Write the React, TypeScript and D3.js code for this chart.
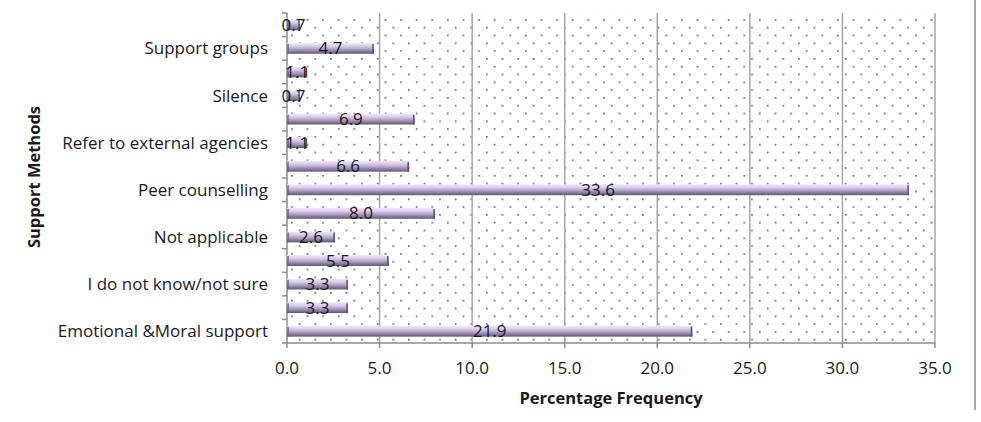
import React from "react";
import * as d3 from "d3";

// Categories from bottom (first) to top (last); hidden labels are blank in the source
const categories: string[] = [
  "Emotional &Moral support",
  "",
  "I do not know/not sure",
  "",
  "Not applicable",
  "",
  "Peer counselling",
  "",
  "Refer to external agencies",
  "",
  "Silence",
  "",
  "Support groups",
  "",
];
const values: number[] = [21.9, 3.3, 3.3, 5.5, 2.6, 8.0, 33.6, 6.6, 1.1, 6.9, 0.7, 1.1, 4.7, 0.7];
const xTicks: number[] = [0, 5, 10, 15, 20, 25, 30, 35];
const xTitle = "Percentage Frequency";
const yTitle = "Support Methods";

const W = 981;
const H = 422;
const M = { left: 287, right: 46, top: 13, bottom: 79 };
const FONT = "'Open Sans', sans-serif";
const FS = 17;

export default function App() {
  const x = d3.scaleLinear().domain([0, 35]).range([M.left, W - M.right]);
  const idx = categories.map((_, i) => i);
  const y = d3
    .scaleBand<number>()
    .domain(idx.slice().reverse())
    .range([M.top, H - M.bottom])
    .paddingInner(0.54)
    .paddingOuter(0.27);
  const step = y.step();
  const plotTop = M.top;
  const plotBottom = H - M.bottom;
  const boundaries = d3.range(categories.length + 1).map((i) => plotTop + i * step);

  return (
    <svg width={W} height={H} style={{ position: "absolute", left: 0, top: 0, background: "#fff" }}>
      <defs>
        <pattern id="dots" x={M.left + 4} y={plotTop + 6} width={15.6} height={15.6} patternUnits="userSpaceOnUse">
          <rect x={0} y={0} width={1.7} height={1.7} fill="#4f6fa3" />
          <rect x={7.8} y={7.8} width={1.7} height={1.7} fill="#4f6fa3" />
        </pattern>
        <linearGradient id="barGrad" x1="0" y1="0" x2="0" y2="1">
          <stop offset="0" stopColor="#f2eafa" />
          <stop offset="0.3" stopColor="#d9cbea" />
          <stop offset="0.55" stopColor="#b4a4c9" />
          <stop offset="0.8" stopColor="#85789a" />
          <stop offset="1" stopColor="#5f556e" />
        </linearGradient>
      </defs>
      <rect x={M.left} y={plotTop} width={x(35) - M.left} height={plotBottom - plotTop} fill="url(#dots)" />
      {xTicks.slice(1).map((t) => (
        <line key={t} x1={x(t)} x2={x(t)} y1={plotTop} y2={plotBottom} stroke="#a6a6a6" strokeWidth={1.5} />
      ))}
      {/* axes */}
      <line x1={M.left} x2={M.left} y1={plotTop} y2={plotBottom} stroke="#8c8c8c" strokeWidth={1.5} />
      <line x1={M.left} x2={x(35)} y1={plotBottom} y2={plotBottom} stroke="#8c8c8c" strokeWidth={1.5} />
      {boundaries.map((b, i) => (
        <line key={"yt" + i} x1={M.left - 5} x2={M.left} y1={b} y2={b} stroke="#8c8c8c" strokeWidth={1.5} />
      ))}
      {xTicks.map((t) => (
        <line key={"xt" + t} x1={x(t)} x2={x(t)} y1={plotBottom} y2={plotBottom + 5} stroke="#8c8c8c" strokeWidth={1.5} />
      ))}
      {/* bars */}
      {values.map((v, i) => {
        const by = y(i)!;
        const bh = y.bandwidth();
        return (
          <g key={"b" + i}>
            <rect x={x(0)} y={by} width={x(v) - x(0)} height={bh} fill="url(#barGrad)" />
            <line x1={x(v) - 1} x2={x(v) - 1} y1={by + 1} y2={by + bh} stroke="#5a506a" strokeWidth={1.5} />
            <line x1={x(0) + 1} x2={x(0) + 1} y1={by + 1} y2={by + bh} stroke="#6d6180" strokeWidth={1.5} />
          </g>
        );
      })}
      {/* value labels */}
      {values.map((v, i) => (
        <text
          key={"l" + i}
          x={(x(0) + x(v)) / 2}
          y={y(i)! + y.bandwidth() / 2 + 6}
          textAnchor="middle"
          fontFamily={FONT}
          fontSize={FS}
          fill="#1a1a1a"
        >
          {v.toFixed(1)}
        </text>
      ))}
      {/* category labels */}
      {categories.map((c, i) =>
        c ? (
          <text
            key={"c" + i}
            x={268}
            y={y(i)! + y.bandwidth() / 2 + 6}
            textAnchor="end"
            fontFamily={FONT}
            fontSize={FS}
            fill="#1a1a1a"
          >
            {c}
          </text>
        ) : null
      )}
      {/* x tick labels */}
      {xTicks.map((t) => (
        <text key={"xl" + t} x={x(t)} y={374} textAnchor="middle" fontFamily={FONT} fontSize={FS} fill="#1a1a1a">
          {t.toFixed(1)}
        </text>
      ))}
      <text x={611} y={404} textAnchor="middle" fontFamily={FONT} fontSize={16.5} fontWeight="bold" fill="#1a1a1a">
        {xTitle}
      </text>
      <text
        transform={`translate(40, 177) rotate(-90)`}
        textAnchor="middle"
        fontFamily={FONT}
        fontSize={16.5}
        fontWeight="bold"
        fill="#1a1a1a"
      >
        {yTitle}
      </text>
      <line x1={975} x2={975} y1={0} y2={410} stroke="#a9a9a9" strokeWidth={2} />
    </svg>
  );
}
